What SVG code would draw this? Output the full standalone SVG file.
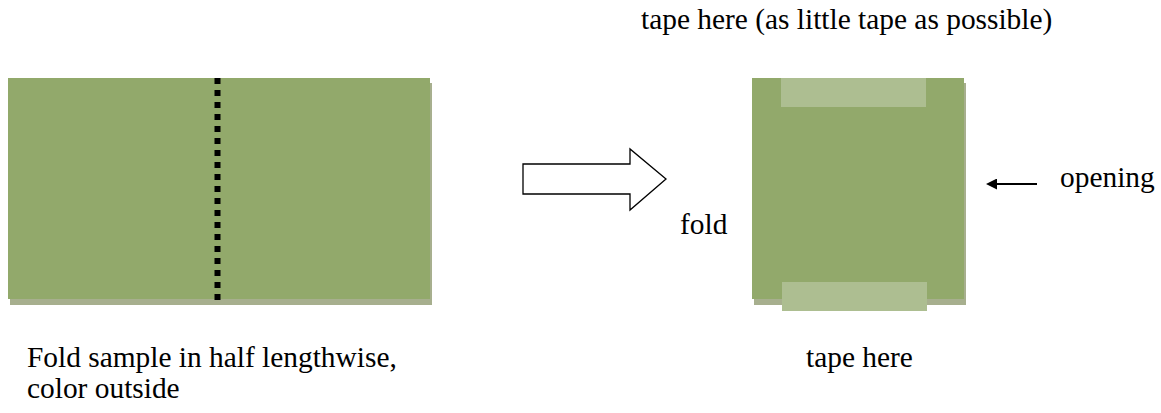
<svg xmlns="http://www.w3.org/2000/svg" width="1161" height="413" viewBox="0 0 1161 413">
  <style>
    text { font-family: 'Liberation Serif', 'Times New Roman', Times, serif; font-size: 29.4px; fill: #000; }
    .sheet { fill: #92a96b; }
    .shadow { fill: #a7af8e; }
    .tape { fill: #adbe91; }
  </style>
  <defs>
    <marker id="head" viewBox="0 0 10 10" refX="0" refY="5" markerWidth="8" markerHeight="5.5" markerUnits="strokeWidth" orient="auto-start-reverse">
      <path d="M0,0 L10,5 L0,10 z" fill="#000"/>
    </marker>
  </defs>
  <rect width="1161" height="413" fill="#fff"/>

  <g id="sample-flat">
    <rect class="shadow" x="10" y="83" width="422" height="222"/>
    <rect class="sheet" x="8" y="78" width="422" height="221"/>
    <line x1="217.5" y1="78" x2="217.5" y2="300" stroke="#000" stroke-width="6" stroke-dasharray="6 6"/>
  </g>

  <g id="sample-folded">
    <rect class="shadow" x="754" y="83" width="212" height="222"/>
    <rect class="sheet" x="752" y="78" width="212" height="221"/>
    <rect class="tape" x="781" y="78" width="145" height="29"/>
    <rect class="tape" x="782" y="282" width="145" height="29"/>
  </g>

  <g id="connectors">
    <polygon points="523,164 630,164 630,149 666,179 630,210 630,194 523,194" fill="#fff" stroke="#000" stroke-width="1.3" stroke-linejoin="miter"/>
    <line x1="1037" y1="184" x2="997" y2="184" stroke="#000" stroke-width="2" marker-end="url(#head)"/>
  </g>

  <g id="labels">
    <text x="641" y="28.5">tape here (as little tape as possible)</text>
    <text x="27" y="367">Fold sample in half lengthwise,</text>
    <text x="27" y="398">color outside</text>
    <text x="680" y="234">fold</text>
    <text x="1060" y="187">opening</text>
    <text x="806" y="367">tape here</text>
  </g>
</svg>
